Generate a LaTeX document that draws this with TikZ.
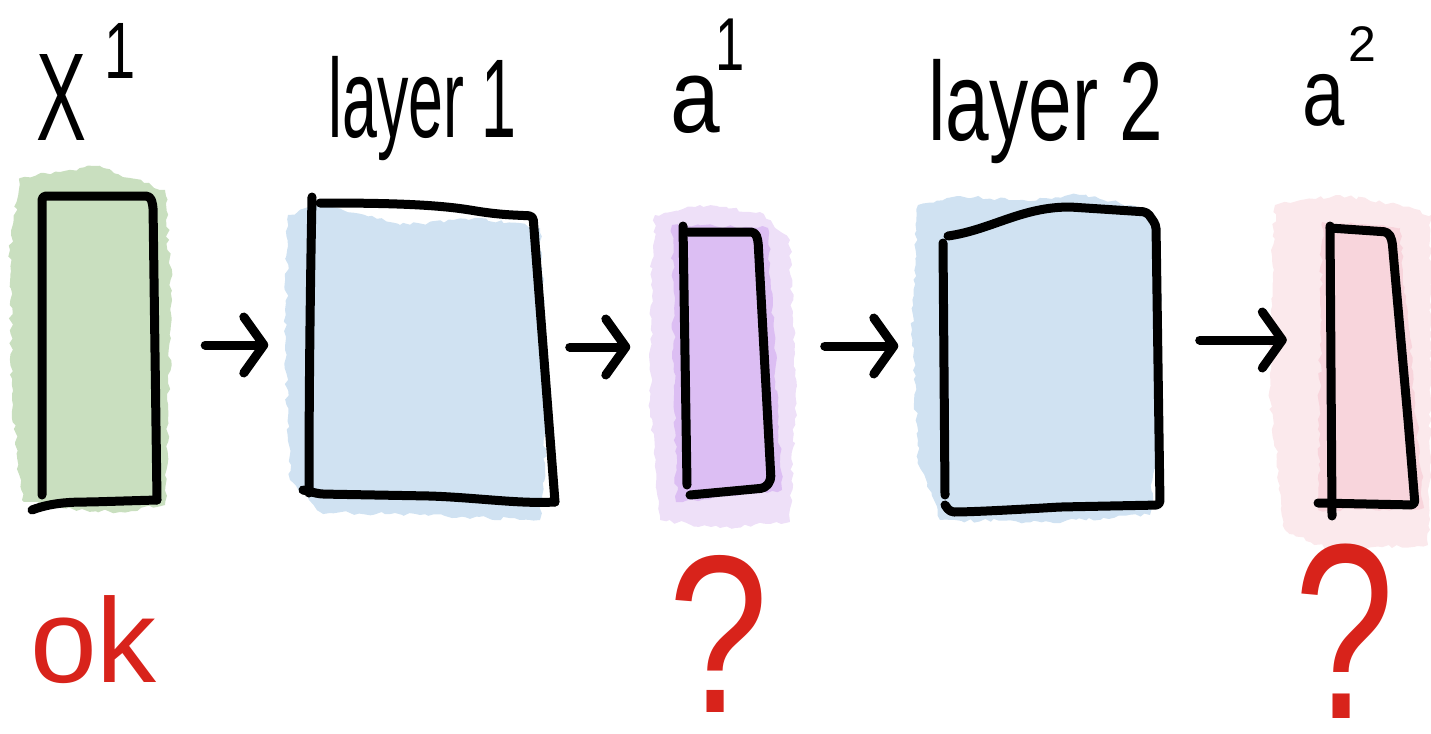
\documentclass[tikz,border=0pt]{standalone}
\usepackage{fontspec}
\setmainfont{Liberation Sans}
\usetikzlibrary{arrows.meta,decorations.pathmorphing}
\definecolor{washgreen}{HTML}{C9DFBF}
\definecolor{washblue}{HTML}{D0E2F2}
\definecolor{washpurpleout}{HTML}{EEE0F8}
\definecolor{washpurple}{HTML}{DCBEF3}
\definecolor{washpinkout}{HTML}{FBE9EC}
\definecolor{washpink}{HTML}{F8D5DC}
\definecolor{inkred}{HTML}{D8231B}
\begin{document}
\begin{tikzpicture}[x=1pt,y=1pt,
  wash/.style={decorate,decoration={random steps,segment length=5pt,amplitude=2pt}},
  hand/.style={line width=9pt,line cap=round,line join=round,rounded corners=4pt},
  arr/.style={line width=9pt,line cap=round,-{Straight Barb[length=20pt,width=56pt,round]}},
  boxarea/.style={draw=none,inner sep=0pt,rectangle},
  lbl/.style={inner sep=0pt,anchor=base west}]
\pgfmathsetseed{7}
\useasboundingbox (0,0) rectangle (1431,-733);
% invisible box areas
\node[boxarea,minimum width=118pt,minimum height=305pt] (box1) at (98,-347) {};
\node[boxarea,minimum width=245pt,minimum height=300pt] (box2) at (432,-350) {};
\node[boxarea,minimum width=87pt,minimum height=262pt] (box3) at (727,-360) {};
\node[boxarea,minimum width=215pt,minimum height=275pt] (box4) at (1052,-368) {};
\node[boxarea,minimum width=90pt,minimum height=280pt] (box5) at (1372,-368) {};
% washes
\fill[washgreen,wash] (20,-178) -- (60,-172) -- (95,-166) -- (130,-178) -- (165,-190) -- (172,-300) -- (168,-420) -- (165,-505) -- (120,-512) -- (60,-508) -- (22,-500) -- (12,-400) -- (10,-250) -- cycle;
\fill[washblue,wash] (288,-215) -- (320,-203) -- (400,-225) -- (480,-218) -- (540,-228) -- (545,-350) -- (545,-470) -- (540,-520) -- (420,-515) -- (320,-512) -- (290,-480) -- (285,-350) -- cycle;
\fill[washpurpleout,wash] (655,-215) -- (700,-205) -- (760,-212) -- (790,-240) -- (796,-400) -- (790,-522) -- (720,-528) -- (660,-520) -- (650,-400) -- (652,-260) -- cycle;
\fill[washpurple,wash] (672,-225) -- (768,-228) -- (782,-490) -- (676,-502) -- cycle;
\fill[washblue,wash] (918,-205) -- (960,-196) -- (1020,-200) -- (1080,-195) -- (1130,-205) -- (1150,-215) -- (1162,-300) -- (1158,-420) -- (1150,-515) -- (1050,-522) -- (940,-520) -- (918,-460) -- (912,-330) -- cycle;
\fill[washpinkout,wash] (1275,-205) -- (1340,-195) -- (1400,-205) -- (1431,-215) -- (1431,-400) -- (1428,-545) -- (1330,-550) -- (1285,-530) -- (1270,-400) -- (1272,-260) -- cycle;
\fill[washpink,wash] (1322,-222) -- (1400,-228) -- (1424,-508) -- (1318,-510) -- cycle;
% hand-drawn boxes
\draw[hand] (42,-495) -- (42,-196) -- (150,-196) -- (153,-205) -- (157,-500);
\draw[hand] (32,-510) .. controls (50,-503) and (70,-502) .. (90,-502) -- (157,-500);
\draw[hand] (312,-197) .. controls (310,-300) and (309,-400) .. (309,-493);
\draw[hand] (320,-203) .. controls (380,-203) and (430,-204) .. (470,-210) .. controls (500,-215) and (515,-215) .. (533,-216) -- (555,-502);
\draw[hand] (303,-490) -- (320,-494) -- (430,-496) .. controls (480,-498) and (520,-504) .. (555,-502);
\draw[hand] (683,-226) -- (687,-485);
\draw[hand] (688,-232) -- (755,-232) -- (758,-240) -- (771,-480) -- (765,-488) -- (690,-495);
\draw[hand] (943,-243) -- (945,-495);
\draw[hand] (948,-236) .. controls (990,-230) and (1020,-208) .. (1070,-207) -- (1147,-212) -- (1156,-225) -- (1160,-505) -- (1060,-507) .. controls (1010,-510) and (970,-512) .. (950,-512) -- (945,-505);
\draw[hand] (1330,-226) -- (1332,-516);
\draw[hand] (1330,-228) -- (1388,-232) -- (1392,-240) -- (1408,-420) -- (1415,-505) -- (1318,-503);
% arrows
\draw[arr,shorten <=48pt,shorten >=41pt] ([yshift=2pt]box1.east) -- ([yshift=5pt]box2.west);
\draw[arr,shorten <=15pt,shorten >=53pt] ([yshift=3pt]box2.east) -- ([yshift=13pt]box3.west);
\draw[arr,shorten <=54pt,shorten >=46pt] ([yshift=14pt]box3.east) -- ([yshift=22pt]box4.west);
\draw[arr,shorten <=40pt,shorten >=40pt] ([yshift=28pt]box4.east) -- ([yshift=28pt]box5.west);
% labels
\node[lbl] (lx) at (36,-140) {\fontsize{125}{125}\selectfont\scalebox{0.6}[1]{X}\hspace{18pt}\raisebox{62pt}{\fontsize{80}{80}\selectfont\scalebox{0.7}[1]{1}}};
\node[lbl] (l1) at (328,-137) {\fontsize{112}{112}\selectfont\scalebox{0.56}[1]{layer 1}};
\node[lbl] (la1) at (670,-132) {\fontsize{105}{105}\selectfont\scalebox{0.85}[1]{a}\hspace{-4pt}\raisebox{62pt}{\fontsize{75}{75}\selectfont\scalebox{0.7}[1]{1}}};
\node[lbl] (l2) at (928,-140) {\fontsize{112}{112}\selectfont\scalebox{0.7}[1]{layer 2}};
\node[lbl] (la2) at (1302,-125) {\fontsize{95}{95}\selectfont\scalebox{0.8}[1]{a}\hspace{4pt}\raisebox{64pt}{\fontsize{50}{50}\selectfont 2}};
\node[lbl,text=inkred] (ok) at (30,-682) {\fontsize{120}{120}\selectfont ok};
\node[lbl,text=inkred] (q1) at (668,-712) {\fontsize{225}{225}\selectfont\scalebox{0.8}[1]{?}};
\node[lbl,text=inkred] (q2) at (1294,-718) {\fontsize{250}{250}\selectfont\scalebox{0.72}[1]{?}};
\end{tikzpicture}
\end{document}
